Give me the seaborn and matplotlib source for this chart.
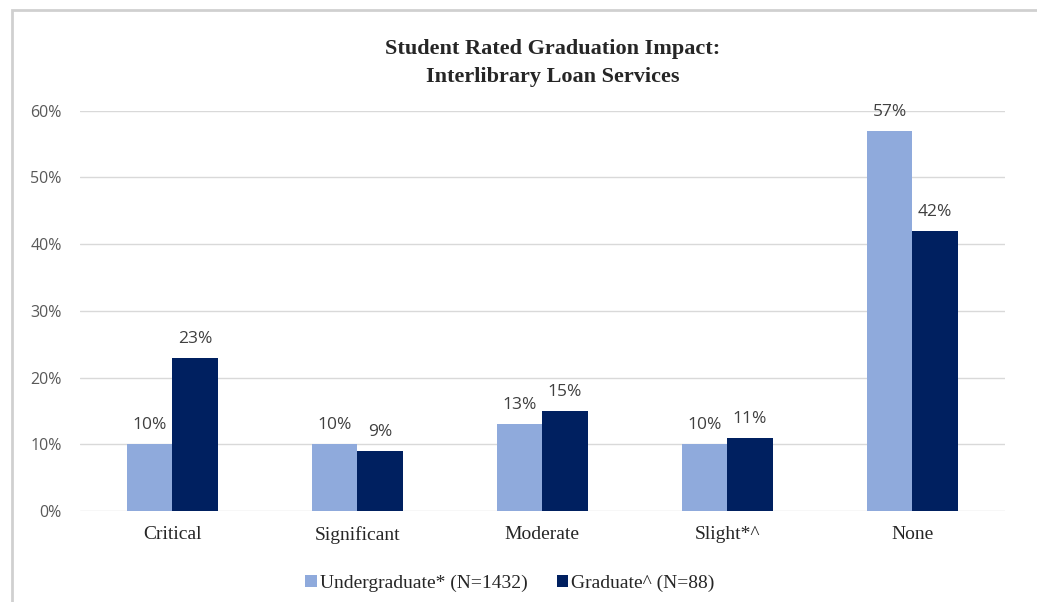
import pandas as pd
import matplotlib
matplotlib.use('Agg')
import matplotlib.pyplot as plt
import seaborn as sns
from matplotlib.patches import Rectangle
from matplotlib.ticker import FuncFormatter

# Chart data
categories = ['Critical', 'Significant', 'Moderate', 'Slight*^', 'None']
undergrad = [10, 10, 13, 10, 57]
graduate = [23, 9, 15, 11, 42]
series_names = ['Undergraduate* (N=1432)', 'Graduate^ (N=88)']
colors = ['#8FAADC', '#002060']

df = pd.DataFrame({
    'category': categories * 2,
    'value': undergrad + graduate,
    'group': [series_names[0]] * len(categories) + [series_names[1]] * len(categories),
})

sns.set_style('white')
serif = 'Liberation Serif'
sans = 'Open Sans'

fig = plt.figure(figsize=(10.37, 6.02), dpi=100)
ax = fig.add_axes([0.077, 0.151, 0.892, 0.665])

sns.barplot(data=df, x='category', y='value', hue='group', palette=colors,
            width=0.49, saturation=1, linewidth=0, ax=ax, legend=True)

ax.set_ylim(0, 60)
ax.set_yticks(range(0, 61, 10))
ax.yaxis.set_major_formatter(FuncFormatter(lambda v, p: f'{int(v)}%'))
ax.grid(axis='y', color='#D9D9D9', linewidth=1)
ax.set_axisbelow(True)
for s in ax.spines.values():
    s.set_visible(False)
ax.set_xlabel('')
ax.set_ylabel('')
ax.tick_params(axis='y', length=0, pad=13, labelsize=11.5, labelcolor='#595959')
ax.tick_params(axis='x', length=0, pad=11, labelsize=14)
for lbl in ax.get_yticklabels():
    lbl.set_fontfamily(sans)
for lbl in ax.get_xticklabels():
    lbl.set_fontfamily(serif)

for cont in ax.containers:
    ax.bar_label(cont, fmt='%d%%', padding=8, fontsize=12.5, color='#404040',
                 fontfamily=sans)

leg = ax.legend(loc='upper center', bbox_to_anchor=(0.465, -0.115), ncol=2,
                frameon=False, handlelength=0.6, handleheight=0.6,
                handletextpad=0.15, columnspacing=1.5,
                prop={'family': serif, 'size': 14})

fig.text(0.533, 0.895, 'Student Rated Graduation Impact:\nInterlibrary Loan Services',
         ha='center', va='center', fontsize=16, fontweight='bold',
         fontfamily=serif, linespacing=1.5)

fig.patches.append(Rectangle((0.0116, -0.1), 1.2, 1.083, transform=fig.transFigure,
                             fill=False, edgecolor='#D0D0D0', linewidth=2))

fig.savefig('out.png', dpi=100)
